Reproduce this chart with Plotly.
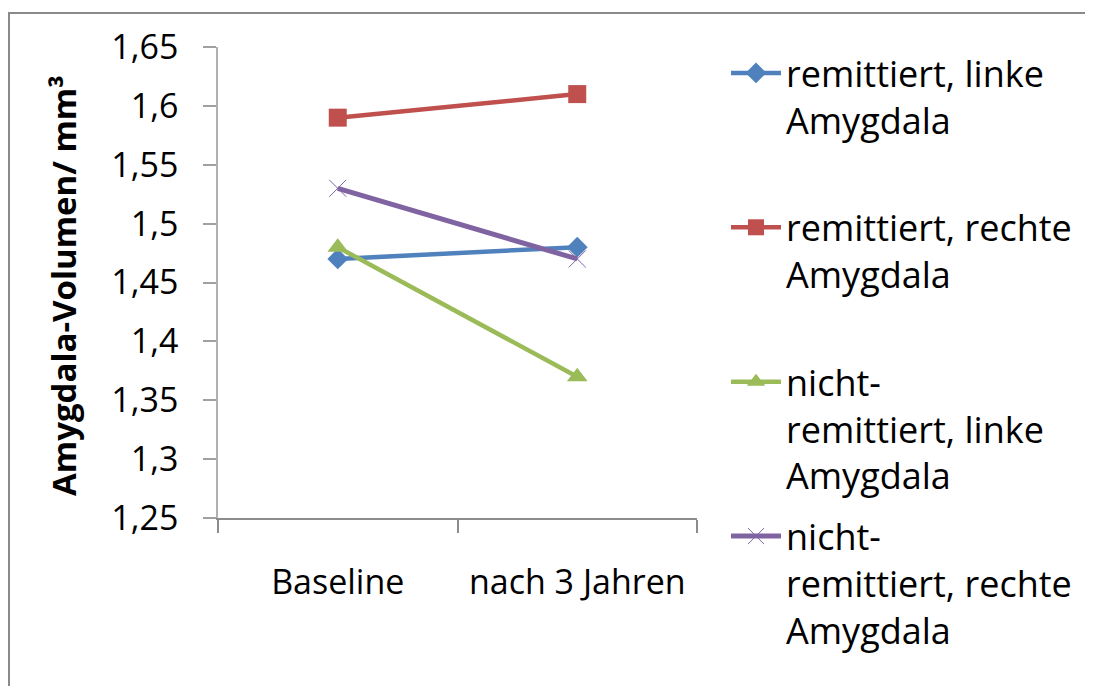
import plotly.graph_objects as go

categories = ["Baseline", "nach 3 Jahren"]
series_names = [
    "remittiert, linke<br>Amygdala<br> ",
    "remittiert, rechte<br>Amygdala<br> ",
    "nicht-<br>remittiert, linke<br>Amygdala",
    "nicht-<br>remittiert, rechte<br>Amygdala",
]
rem_links = [1.47, 1.48]
rem_rechts = [1.59, 1.61]
nrem_links = [1.48, 1.37]
nrem_rechts = [1.53, 1.47]
y_tickvals = [1.25, 1.30, 1.35, 1.40, 1.45, 1.50, 1.55, 1.60, 1.65]
y_ticktext = ["1,25", "1,3", "1,35", "1,4", "1,45", "1,5", "1,55", "1,6", "1,65"]

colors = ["#4F81BD", "#C0504D", "#9BBB59", "#8064A2"]
symbols = ["diamond", "square", "triangle-up", "x-thin"]
sizes = [16, 18, 18, 17]
widths = [4.5, 4.5, 4.5, 5]
values = [rem_links, rem_rechts, nrem_links, nrem_rechts]

# page has an 8px body margin; figure fills the rest of the window
W, H = 1085, 678
L, T = 210, 39
R, B = W - 689, H - 510
pw, ph = W - L - R, H - T - B


def px_x(p):
    return (p - L) / pw


def px_y(p):
    return (H - B - p) / ph


fig = go.Figure()
for i, (name, vals) in enumerate(zip(series_names, values)):
    marker = dict(symbol=symbols[i], size=sizes[i], color=colors[i])
    if symbols[i] == "x-thin":
        marker["line"] = dict(color=colors[i], width=1)
    fig.add_trace(go.Scatter(
        x=categories, y=vals, name=name, mode="lines+markers",
        line=dict(color=colors[i], width=widths[i]),
        marker=marker, legendgroup=str(i),
    ))

axis_font = dict(family="Open Sans", size=34, color="black")

fig.update_layout(
    width=W, height=H,
    margin=dict(l=L, r=R, t=T, b=B, pad=0),
    paper_bgcolor="white", plot_bgcolor="white",
    font=dict(family="Open Sans", color="black"),
    showlegend=True,
    legend=dict(
        x=px_x(718), xanchor="left",
        y=px_y(35), yanchor="top",
        font=dict(family="Open Sans", size=36, color="black"),
        valign="top", traceorder="grouped", tracegroupgap=11,
        itemwidth=50, bgcolor="rgba(0,0,0,0)", maxheight=660,
    ),
    xaxis=dict(
        type="category", range=[-0.5, 1.5], tickson="boundaries",
        ticks="outside", ticklen=13, tickcolor="#8c8c8c", tickwidth=1.5,
        showline=True, linecolor="#8c8c8c", linewidth=1.5,
        showgrid=False, zeroline=False, tickfont=axis_font,
        ticklabelstandoff=33,
    ),
    yaxis=dict(
        range=[1.25, 1.65], tickvals=y_tickvals, ticktext=y_ticktext,
        ticks="outside", ticklen=13, tickcolor="#a0a0a0", tickwidth=1.5,
        showline=True, linecolor="#b0b0b0", linewidth=1.5,
        showgrid=False, zeroline=False, tickfont=axis_font,
        ticklabelstandoff=18,
    ),
    annotations=[dict(
        text="<b>Amygdala-Volumen/ mm³</b>", textangle=-90,
        xref="paper", yref="paper",
        x=px_x(55), y=px_y(278),
        xanchor="center", yanchor="middle", showarrow=False,
        font=dict(family="Open Sans", size=33, color="black"),
    )],
    shapes=[dict(
        type="rect", xref="paper", yref="paper",
        x0=px_x(1), x1=px_x(1110),
        y0=px_y(720), y1=px_y(5),
        line=dict(color="#8a8a8a", width=2), fillcolor="rgba(0,0,0,0)",
        layer="below",
    )],
)

fig.write_html("out.html")
